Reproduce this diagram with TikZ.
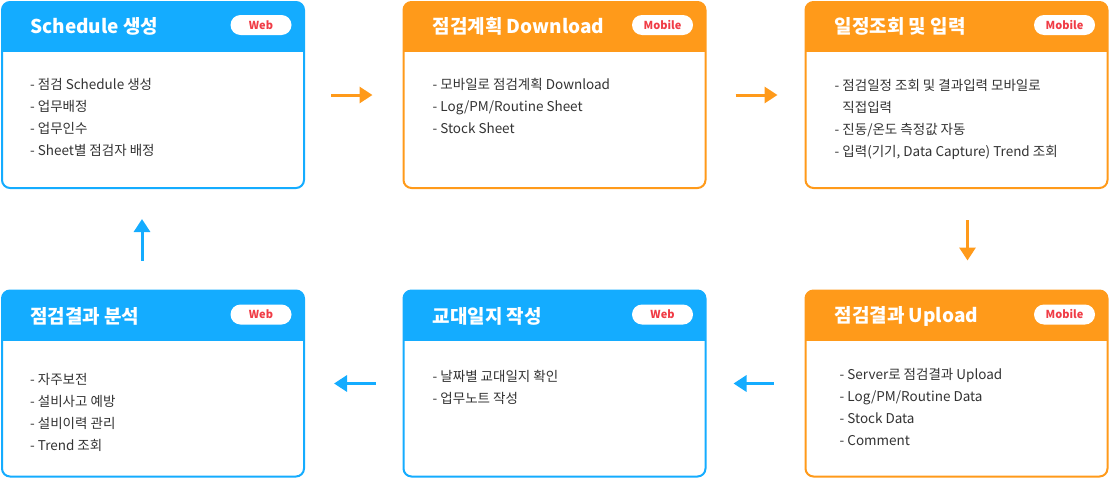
\documentclass[tikz,border=0pt]{standalone}
\usepackage{fontspec}
\setmainfont{Noto Sans CJK KR}
\usetikzlibrary{arrows.meta,positioning}
\definecolor{webblue}{RGB}{20,172,255}
\definecolor{mobileorange}{RGB}{255,154,26}
\definecolor{badgered}{RGB}{240,60,70}
\definecolor{bodytext}{RGB}{51,51,51}

\begin{document}
\begin{tikzpicture}[
  x=1pt, y=1pt,
  % card with coloured header band
  card/.style={
    draw=#1,
    fill=white,
    line width=2pt,
    rounded corners=8pt,
    minimum width=302pt,
    minimum height=186pt,
    path picture={\fill[#1, sharp corners] (path picture bounding box.north west) rectangle ([yshift=-50pt]path picture bounding box.north east);}
  },
  title/.style={
    anchor=west,
    inner sep=0pt,
    text=white,
    font=\fontsize{19}{19}\selectfont\bfseries
  },
  badge/.style={
    fill=white,
    rounded corners=10pt,
    minimum width=61pt,
    minimum height=20pt,
    inner sep=0pt,
    text=badgered,
    font=\fontsize{11}{11}\selectfont\bfseries
  },
  body/.style={
    anchor=north west,
    align=left,
    inner sep=0pt,
    text=bodytext,
    font=\fontsize{13.5}{22}\selectfont
  },
  arr/.style={
    -{Triangle[length=13pt,width=16pt]},
    line width=3pt,
    draw=#1
  }
]

\useasboundingbox (0,0) rectangle (1110,-479);

% Schedule
\node[card=webblue] (sched) at (153,-95) {};
\node[title] (schedtitle) at ([xshift=29pt,yshift=-25pt]sched.north west) {Schedule 생성};
\node[badge] (schedbadge) at ([xshift=-44pt,yshift=-24pt]sched.north east) {Web};
\node[body] (schedbody) at ([xshift=29pt,yshift=-77pt]sched.north west) {- 점검 Schedule 생성\\- 업무배정\\- 업무인수\\- Sheet별 점검자 배정};

% Download
\node[card=mobileorange] (plan) at (554.5,-95) {};
\node[title] (plantitle) at ([xshift=30pt,yshift=-25pt]plan.north west) {점검계획 Download};
\node[badge] (planbadge) at ([xshift=-44pt,yshift=-24pt]plan.north east) {Mobile};
\node[body] (planbody) at ([xshift=30pt,yshift=-77pt]plan.north west) {- 모바일로 점검계획 Download\\- Log/PM/Routine Sheet\\- Stock Sheet};

% Input
\node[card=mobileorange] (input) at (956.5,-95) {};
\node[title] (inputtitle) at ([xshift=30pt,yshift=-25pt]input.north west) {일정조회 및 입력};
\node[badge] (inputbadge) at ([xshift=-44pt,yshift=-24pt]input.north east) {Mobile};
\node[body] (inputbody) at ([xshift=30pt,yshift=-78pt]input.north west) {- 점검일정 조회 및 결과입력 모바일로\\\phantom{- }직접입력\\- 진동/온도 측정값 자동\\- 입력(기기, Data Capture) Trend 조회};

% Upload
\node[card=mobileorange] (upload) at (956.5,-383.5) {};
\node[title] (uploadtitle) at ([xshift=30pt,yshift=-27pt]upload.north west) {점검결과 Upload};
\node[badge] (uploadbadge) at ([xshift=-44pt,yshift=-25pt]upload.north east) {Mobile};
\node[body] (uploadbody) at ([xshift=35pt,yshift=-79pt]upload.north west) {- Server로 점검결과 Upload\\- Log/PM/Routine Data\\- Stock Data\\- Comment};

% Shift log
\node[card=webblue] (shift) at (554.5,-383.5) {};
\node[title] (shifttitle) at ([xshift=30pt,yshift=-27pt]shift.north west) {교대일지 작성};
\node[badge] (shiftbadge) at ([xshift=-44pt,yshift=-25pt]shift.north east) {Web};
\node[body] (shiftbody) at ([xshift=30pt,yshift=-81pt]shift.north west) {- 날짜별 교대일지 확인\\- 업무노트 작성};

% Analysis
\node[card=webblue] (analysis) at (153,-383.5) {};
\node[title] (analysistitle) at ([xshift=29pt,yshift=-27pt]analysis.north west) {점검결과 분석};
\node[badge] (analysisbadge) at ([xshift=-44pt,yshift=-25pt]analysis.north east) {Web};
\node[body] (analysisbody) at ([xshift=29pt,yshift=-84pt]analysis.north west) {- 자주보전\\- 설비사고 예방\\- 설비이력 관리\\- Trend 조회};

% Flow arrows
\draw[arr=mobileorange, shorten <=26pt, shorten >=30pt] (sched) -- (plan);
\draw[arr=mobileorange, shorten <=29pt, shorten >=27pt] (plan) -- (input);
\draw[arr=mobileorange, shorten <=31pt, shorten >=29pt] ([xshift=11pt]input.south) -- ([xshift=11pt]upload.north);
\draw[arr=webblue, shorten <=31pt, shorten >=27pt] (upload) -- (shift);
\draw[arr=webblue, shorten <=27pt, shorten >=29pt] (shift) -- (analysis);
\draw[arr=webblue, shorten <=29pt, shorten >=30pt] ([xshift=-11pt]analysis.north) -- ([xshift=-11pt]sched.south);

\end{tikzpicture}
\end{document}
